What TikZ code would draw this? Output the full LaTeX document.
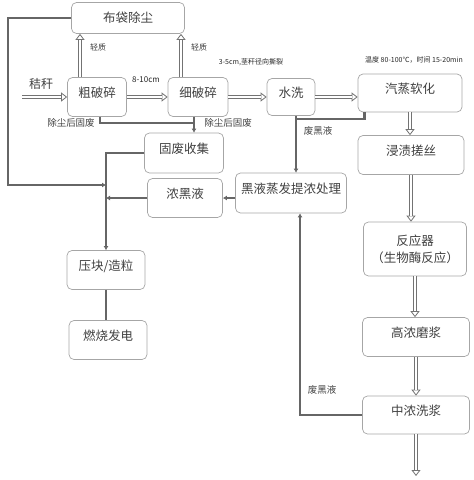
\documentclass[tikz,border=0pt]{standalone}
\usepackage{fontspec}
\newfontfamily\cjk{Noto Sans CJK SC}
\usetikzlibrary{arrows.meta,positioning}
\begin{document}
\begin{tikzpicture}[
  x=1pt,y=-1pt,
  box/.style={draw=gray!70,rounded corners=5pt,line width=0.7pt,align=center,text=black!75,font=\cjk\fontsize{12.5}{17}\selectfont,text depth=9pt},
  lab/.style={text=black!75,font=\cjk\fontsize{9.5}{11}\selectfont,inner sep=1pt},
  note/.style={text=black!85,font=\cjk\fontsize{7}{8}\selectfont,inner sep=1pt},
  flow/.style={draw=white,line width=1.6pt,shorten >=6pt,
    preaction={draw=black!55,line width=4pt,shorten >=0pt,-{Triangle[open,line width=0.8pt,length=6pt,width=9pt]}}},
  waste/.style={draw=black!60,line width=2.4pt},
  warr/.style={waste,-{Latex[length=4pt,width=5pt]}}
]
\useasboundingbox (0,0) rectangle (474,480);
% main line
\node[box,minimum width=113pt,minimum height=31pt,text depth=2pt] (bag) at (128,18) {布袋除尘};
\node[box,minimum width=59pt,minimum height=39pt] (crude) at (97,97) {粗破碎};
\node[box,minimum width=60pt,minimum height=39pt] (fine) at (198,97) {细破碎};
\node[box,minimum width=48pt,minimum height=37pt] (wash) at (291,97) {水洗};
\node[box,minimum width=104pt,minimum height=38pt] (steam) at (410,93) {汽蒸软化};
\node[box,minimum width=106pt,minimum height=39pt] (soak) at (411,155) {浸渍搓丝};
\node[box,minimum width=103pt,minimum height=54pt,text depth=] (reactor) at (415,249) {反应器\\（生物酶反应）};
\node[box,minimum width=107pt,minimum height=39pt] (refine) at (416,337) {高浓磨浆};
\node[box,minimum width=107pt,minimum height=38pt] (midwash) at (416,415) {中浓洗浆};
% side products
\node[box,minimum width=79pt,minimum height=40pt] (collect) at (184,153) {固废收集};
\node[box,minimum width=75pt,minimum height=39pt] (liquor) at (185,198) {浓黑液};
\node[box,minimum width=111pt,minimum height=40pt] (evap) at (291,193) {黑液蒸发提浓处理};
\node[box,minimum width=78pt,minimum height=39pt] (press) at (106,270) {压块/造粒};
\node[box,minimum width=78pt,minimum height=39pt] (burn) at (108,340) {燃烧发电};
% labels
\node[lab,font=\cjk\fontsize{12}{14}\selectfont] (straw) at (41,84) {秸秆};
\node[note,font=\cjk\fontsize{8}{9}\selectfont] (size1) at (146,80) {8-10cm};
\node[note] (size2) at (251,62) {3-5cm,茎秆径向撕裂};
\node[note] (cond) at (414,60) {温度 80-100℃，时间 15-20min};
\node[lab,font=\cjk\fontsize{8}{9}\selectfont] (light1) at (98,47) {轻质};
\node[lab,font=\cjk\fontsize{8}{9}\selectfont] (light2) at (199,47) {轻质};
\node[lab] (dust1) at (71,123) {除尘后固废};
\node[lab] (dust2) at (228,123) {除尘后固废};
\node[lab] (black1) at (318,131) {废黑液};
\node[lab] (black2) at (322,390) {废黑液};
\coordinate (in) at (22,97);
\coordinate (out) at (416,476);
\coordinate (c1) at (8,185);
\coordinate (j1) at (194,123);
\coordinate (j2) at (296,119);
% process flow
\draw[flow] (in) -- (crude.west);
\draw[flow] (crude) -- (fine);
\draw[flow] (fine) -- (wash);
\draw[flow] (wash.east) -- (wash.east -| steam.west);
\draw[flow] ([xshift=-17pt]crude.north) -- ([xshift=-17pt]crude.north |- bag.south);
\draw[flow] ([xshift=-17pt]fine.north) -- ([xshift=-17pt]fine.north |- bag.south);
\draw[flow] (steam.south) -- (steam.south |- soak.north);
\draw[flow] (soak.south) -- (soak.south |- reactor.north);
\draw[flow] (reactor.south) -- (reactor.south |- refine.north);
\draw[flow] (refine.south) -- (refine.south |- midwash.north);
\draw[flow] (midwash.south) -- (out);
% waste lines
\draw[warr] (bag.west) -| (c1) -- (c1 -| press.north);
\draw[warr] (collect.west) -| (press.north);
\draw[warr] (liquor.west) -- (liquor.west -| press.north);
\draw[warr] (evap.west |- liquor) -- (liquor.east);
\draw[waste] ([xshift=3pt]crude.south) |- (j1);
\draw[warr] ([xshift=-4pt]fine.south) -- ([xshift=-4pt]fine.south |- collect.north);
\draw[waste] ([xshift=7pt]steam.south west) |- (j2);
\draw[warr] ([xshift=5pt]wash.south) -- ([xshift=5pt]wash.south |- evap.north);
\draw[warr] (midwash.west) -| ([xshift=9pt]evap.south);
\draw[waste] (press.south) -- (press.south |- burn.north);
\end{tikzpicture}
\end{document}
